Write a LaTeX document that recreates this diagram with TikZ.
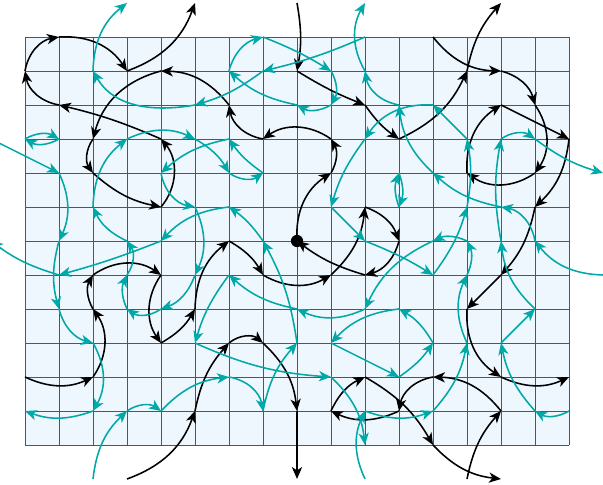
\documentclass[tikz,border=0pt]{standalone}
\usetikzlibrary{arrows.meta}
\definecolor{tealc}{RGB}{0,168,168}
\definecolor{cellfill}{RGB}{238,247,254}
\definecolor{gridc}{RGB}{85,85,85}
\begin{document}
\begin{tikzpicture}[
  blk/.style={draw=black,line width=1.3pt,-{Stealth[length=10pt,width=8.5pt,inset=2.8pt]}},
  tl/.style={draw=tealc,line width=1.3pt,-{Stealth[length=10pt,width=8.5pt,inset=2.8pt]}}]
\useasboundingbox (-0.735,1.088) rectangle (17.0,-13.176);
\fill[cellfill] (0,0) rectangle (16,-12);
\draw[gridc,line width=0.7pt] (0,-12) grid (16,0);
\foreach \i in {-1,...,17}{\foreach \j in {-1,...,13}{\coordinate (v\i-\j) at (\i,-\j);}}
% ---------- black path ----------
\draw[blk] (v0-10) to[bend right=25] (v2-10);
\draw[blk] (v2-10) to[bend right=35] (v2-8);
\draw[blk] (v2-8) to[bend left=30] (v2-7);
\draw[blk] (v2-7) to[bend left=35] (v4-7);
\draw[blk] (v4-7) to[bend right=35] (v4-9);
\draw[blk] (v4-9) to[bend right=15] (v5-8);
\draw[blk] (v5-8) to[bend left=25] (v6-6);
\draw[blk] (v6-6) to[bend left=15] (v7-7);
\draw[blk] (v7-7) to[bend right=30] (v9-7);
\draw[blk] (v9-7) to[bend right=20] (v10-5);
\draw[blk] (v10-5) to[bend left=25] (v11-6);
\draw[blk] (v11-6) to[bend left=30] (v10-7);
\draw[blk] (v10-7) to[bend left=10] (v8-6);
\draw[blk] (v8-6) to[bend left=30] (v9-4);
\draw[blk] (v9-4) to[bend right=30] (v9-3);
\draw[blk] (v9-3) to[bend right=35] (v7-3);
\draw[blk] (v7-3) to[bend left=35] (v6-2);
\draw[blk] (v6-2) to[bend right=25] (v4-1);
\draw[blk] (v4-1) to[bend right=30] (v2-3);
\draw[blk] (v2-3) to[bend right=35] (v2-4);
\draw[blk] (v2-4) to[bend right=15] (v4-5);
\draw[blk] (v4-5) to[bend right=40] (v4-3);
\draw[blk] (v4-3) to[bend right=5] (v1-2);
\draw[blk] (v1-2) to[bend left=35] (v0-1);
\draw[blk] (v0-1) to[bend left=35] (v1-0);
\draw[blk] (v1-0) to[bend left=30] (v3-1);
\draw[blk] (v3-1) to[bend right=25] (v5--1);
\draw[blk] (v8--1) to[bend left=10] (v8-1);
\draw[blk] (v8-1) to[bend right=5] (v10-2);
\draw[blk] (v10-2) to[bend right=10] (v11-3);
\draw[blk] (v11-3) to[bend right=20] (v13-1);
\draw[blk] (v13-1) to[bend left=15] (v14--1);
\draw[blk] (v12-0) to[bend right=25] (v14-1);
\draw[blk] (v14-1) to[bend left=30] (v15-2);
\draw[blk] (v15-2) to[bend left=35] (v15-4);
\draw[blk] (v15-4) to[bend left=35] (v13-4);
\draw[blk] (v13-4) to[bend left=30] (v14-2);
\draw[blk] (v14-2) -- (v16-3);
\draw[blk] (v16-3) to[bend left=20] (v15-5);
\draw[blk] (v15-5) to[bend left=15] (v14-7);
\draw[blk] (v14-7) -- (v13-8);
\draw[blk] (v13-8) to[bend right=30] (v14-10);
\draw[blk] (v14-10) to[bend right=25] (v16-10);
\draw[blk] (v13-13) to[bend left=15] (v14-11);
\draw[blk] (v14-11) to[bend right=25] (v12-10);
\draw[blk] (v12-10) to[bend right=35] (v11-11);
\draw[blk] (v11-11) to[bend left=25] (v9-11);
\draw[blk] (v9-11) to[bend left=20] (v10-10);
\draw[blk] (v10-10) to[bend left=15] (v12-12);
\draw[blk] (v12-12) to[bend right=20] (v14-13);
\draw[blk] (v3-13) to[bend right=25] (v5-11);
\draw[blk] (v5-11) to[bend left=15] (v6-9);
\draw[blk] (v6-9) to[bend left=40] (v7-9);
\draw[blk] (v7-9) to[bend left=20] (v8-11);
\draw[blk] (v8-11) -- (v8-13);
\fill (v8-6) circle (0.18);
% ---------- teal ----------
\draw[tl] (v2-1) to[bend left=25] (v3--1);
\draw[tl] (v5-2) to[out=190,in=-60] (v2-1);
\draw[tl] (v7-1) to[bend left=10] (v5-2);
\draw[tl] (v10-0) to[bend left=5] (v7-1);
\draw[tl] (v10-1) to[bend left=30] (v10--1);
\draw[tl] (v0-3) to[bend left=30] (v1-3);
\draw[tl] (v1-3) to[bend left=30] (v0-3);
\draw[tl] (v-1-3) -- (v1-4);
\draw[tl] (v1-4) to[bend left=25] (v1-6);
\draw[tl] (v1-6) to[bend right=15] (v1-8);
\draw[tl] (v1-7) to[bend left=10] (v-1-6);
\draw[tl] (v8-2) to[bend left=15] (v6-1);
\draw[tl] (v6-1) to[bend left=30] (v7-0);
\draw[tl] (v7-0) to[bend left=5] (v9-1);
\draw[tl] (v9-1) to[bend left=30] (v9-2);
\draw[tl] (v9-2) to[bend left=30] (v8-2);
\draw[tl] (v3-8) to[bend left=25] (v3-7);
\draw[tl] (v3-7) to[bend right=35] (v3-6);
\draw[tl] (v3-6) to[bend left=20] (v2-5);
\draw[tl] (v2-5) to[bend left=25] (v3-3);
\draw[tl] (v3-3) to[bend left=25] (v5-3);
\draw[tl] (v5-3) to[bend left=15] (v6-4);
\draw[tl] (v6-4) to[bend right=35] (v7-4);
\draw[tl] (v7-4) to[bend left=10] (v6-3);
\draw[tl] (v6-3) to[bend right=15] (v4-4);
\draw[tl] (v4-4) to[bend right=35] (v5-5);
\draw[tl] (v5-5) to[bend left=25] (v5-7);
\draw[tl] (v5-7) to[bend left=25] (v4-8);
\draw[tl] (v4-8) to[bend left=35] (v3-8);
\draw[tl] (v2-13) to[bend left=20] (v3-11);
\draw[tl] (v3-11) to[bend left=35] (v4-11);
\draw[tl] (v4-11) to[bend left=20] (v6-10);
\draw[tl] (v6-10) to[bend left=35] (v7-11);
\draw[tl] (v7-11) to[bend left=15] (v8-9);
\draw[tl] (v8-9) to[bend right=10] (v7-6);
\draw[tl] (v7-6) to[bend right=10] (v6-5);
\draw[tl] (v6-5) to[bend right=20] (v4-6);
\draw[tl] (v4-6) to[bend left=3] (v1-7);
\draw[tl] (v1-8) to[bend right=30] (v2-9);
\draw[tl] (v2-9) to[bend left=30] (v2-11);
\draw[tl] (v2-11) to[bend left=20] (v0-11);
\draw[tl] (v17-7) to[bend left=25] (v15-6);
\draw[tl] (v15-6) to[bend right=35] (v14-5);
\draw[tl] (v14-5) to[bend left=15] (v12-4);
\draw[tl] (v12-4) to[bend left=20] (v11-2);
\draw[tl] (v11-2) to[bend left=35] (v10-1);
\draw[tl] (v11-4) to[bend left=20] (v11-5);
\draw[tl] (v11-5) to[bend left=20] (v11-4);
\draw[tl] (v10-3) to[bend right=10] (v9-5);
\draw[tl] (v9-5) -- (v10-6);
\draw[tl] (v10-6) to[bend left=5] (v12-7);
\draw[tl] (v12-7) to[bend right=10] (v13-5);
\draw[tl] (v13-5) to[bend right=10] (v13-3);
\draw[tl] (v13-3) -- (v12-2);
\draw[tl] (v12-2) to[bend right=30] (v10-3);
\draw[tl] (v13-9) to[bend left=25] (v13-7);
\draw[tl] (v13-7) to[bend right=25] (v13-6);
\draw[tl] (v13-6) to[bend right=25] (v12-6);
\draw[tl] (v12-6) to[bend right=20] (v10-8);
\draw[tl] (v10-8) to[bend left=25] (v8-8);
\draw[tl] (v8-8) to[bend left=15] (v6-7);
\draw[tl] (v6-7) to[bend right=10] (v5-9);
\draw[tl] (v5-9) to[bend right=10] (v9-10);
\draw[tl] (v9-10) to[bend left=20] (v10-12);
\draw[tl] (v12-11) to[bend right=15] (v13-9);
\draw[tl] (v10-11) to[bend right=20] (v12-11);
\draw[tl] (v10-13) to[bend left=25] (v10-11);
\draw[tl] (v9-9) -- (v11-10);
\draw[tl] (v11-10) to[bend right=10] (v12-9);
\draw[tl] (v12-9) to[bend right=15] (v11-8);
\draw[tl] (v11-8) to[bend right=20] (v9-9);
\draw[tl] (v16-11) to[bend left=30] (v15-11);
\draw[tl] (v15-11) to[bend left=15] (v14-9);
\draw[tl] (v14-9) -- (v15-8);
\draw[tl] (v15-8) to[bend left=20] (v14-6);
\draw[tl] (v14-6) to[bend left=10] (v14-3);
\draw[tl] (v14-3) to[bend left=35] (v15-3);
\draw[tl] (v15-3) to[bend right=10] (v17-4);
\end{tikzpicture}
\end{document}
